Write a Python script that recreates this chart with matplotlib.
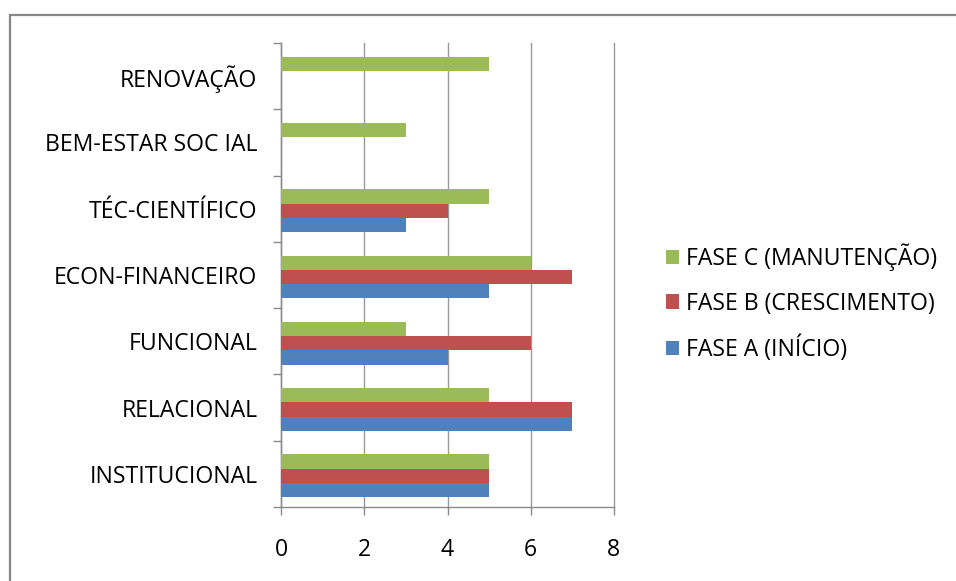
import matplotlib
matplotlib.use("Agg")
import matplotlib.pyplot as plt
import numpy as np
from matplotlib.patches import Rectangle

categories = ["INSTITUCIONAL", "RELACIONAL", "FUNCIONAL", "ECON-FINANCEIRO",
              "TÉC-CIENTÍFICO", "BEM-ESTAR SOC IAL", "RENOVAÇÃO"]
fase_a = [5, 7, 4, 5, 3, 0, 0]
fase_b = [5, 7, 6, 7, 4, 0, 0]
fase_c = [5, 5, 3, 6, 5, 3, 5]
series_names = ["FASE A (INÍCIO)", "FASE B (CRESCIMENTO)", "FASE C (MANUTENÇÃO)"]
colors = ["#4F81BD", "#C0504D", "#9BBB59"]
xticks = [0, 2, 4, 6, 8]

plt.rcParams['font.family'] = ['Open Sans', 'DejaVu Sans']
FS = 16.6

fig = plt.figure(figsize=(9.56, 5.81), dpi=100)
fig.patches.append(Rectangle((10/956, -0.1), 1.2, (581-15)/581 + 0.1,
                             transform=fig.transFigure, fill=False,
                             edgecolor="#868686", linewidth=1.6))

ax = fig.add_axes([281/956, 74/581, 333/956, 464/581])
y = np.arange(len(categories))
w = 0.215
bars = []
for i, (vals, c, name) in enumerate(zip([fase_a, fase_b, fase_c], colors, series_names)):
    b = ax.barh(y + (i - 1) * w - 0.03, vals, height=w, color=c, label=name, zorder=3)
    bars.append(b)

ax.set_xlim(0, 8)
ax.set_ylim(-0.5, len(categories) - 0.5)
ax.set_xticks(xticks)
ax.set_xticklabels([str(t) for t in xticks])
ax.set_yticks(y)
ax.set_yticklabels(categories)
ax.set_yticks(np.arange(len(categories) + 1) - 0.5, minor=True)

ax.xaxis.grid(True, color="#9a9a9a", linewidth=1.0, zorder=0)
for gl in ax.xaxis.get_gridlines():
    gl.set_clip_on(False)
for s in ["top", "right"]:
    ax.spines[s].set_visible(False)
for s in ["left", "bottom"]:
    ax.spines[s].set_color("#8a8a8a")
    ax.spines[s].set_linewidth(1.0)

ax.tick_params(axis="y", which="major", length=0, pad=17, labelsize=FS, colors="#000000")
ax.tick_params(axis="y", which="minor", length=6, width=1.0, color="#8a8a8a")
ax.tick_params(axis="x", which="major", length=6, width=1.0, color="#8a8a8a",
               pad=16, labelsize=FS, labelcolor="#000000")

handles = [bars[2], bars[1], bars[0]]
labels = [series_names[2], series_names[1], series_names[0]]
leg = fig.legend(handles, labels, loc="center left", bbox_to_anchor=(654/956, 1 - 303/581),
                 frameon=False, fontsize=FS, handlelength=0.58, handleheight=0.58,
                 handletextpad=0.3, labelspacing=0.88, borderpad=0)

fig.savefig("out.png", dpi=100)
